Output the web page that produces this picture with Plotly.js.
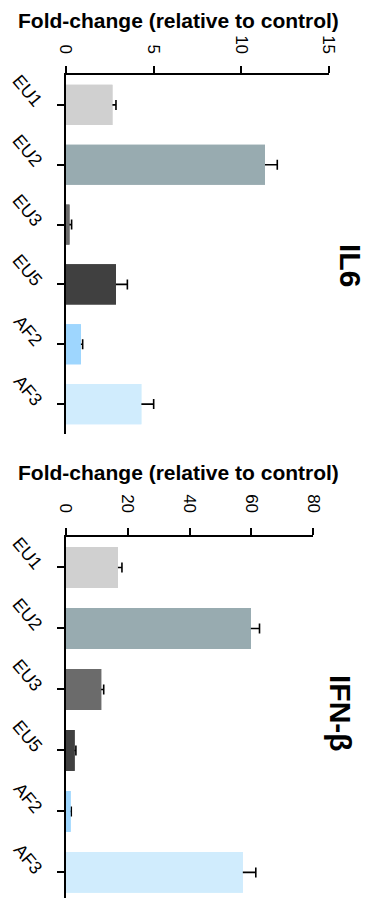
<!DOCTYPE html>
<html>
<head>
<meta charset="utf-8">
<script src="https://cdn.plot.ly/plotly-3.0.1.min.js"></script>
<style>html,body{margin:0;padding:0;background:#fff;}#chart{width:374px;height:898px;}</style>
</head>
<body>
<div id="chart"></div>
<script>
const categories = ['EU1', 'EU2', 'EU3', 'EU5', 'AF2', 'AF3'];
const il6Values = [2.65, 11.35, 0.2, 2.85, 0.85, 4.3];
const il6Errors = [0.2, 0.7, 0.12, 0.65, 0.1, 0.7];
const ifnbValues = [16.8, 59.8, 11.4, 2.8, 1.5, 57.2];
const ifnbErrors = [1.3, 2.8, 0.8, 0.4, 0.2, 4.2];
const barColors = ['#d0d0d0', '#98abb0', '#6b6b6b', '#404040', '#9ed6fe', '#d0ecfd'];
const il6Ticks = [0, 5, 10, 15];
const ifnbTicks = [0, 20, 40, 60, 80];
const axisTitle = 'Fold-change (relative to control)';
const panelTitles = ['IL6', 'IFN-β'];

const FONT = 'Liberation Sans, Arial, sans-serif';

// Bars with one-sided (plus) error bars; the lower cap is tucked inside the bar
// and hidden by an identical bar layer drawn on top.
function panelTraces(vals, errs, hideInside, xa, ya) {
  const minus = vals.map(v => Math.min(v * 0.5, hideInside));
  const base = {
    type: 'bar', orientation: 'h', x: vals, y: categories,
    xaxis: xa, yaxis: ya, width: 0.67,
    marker: {color: barColors, line: {width: 0}},
    showlegend: false, hoverinfo: 'none'
  };
  return [
    Object.assign({}, base, {
      error_x: {type: 'data', array: errs, arrayminus: minus, symmetric: false,
                color: '#000', thickness: 1.6, width: 5}
    }),
    Object.assign({}, base)
  ];
}

const data = [].concat(
  panelTraces(il6Values, il6Errors, 0.15, 'x', 'y'),
  panelTraces(ifnbValues, ifnbErrors, 0.8, 'x2', 'y2')
);

function xAxis(domain, range, ticks, anchor, standoff) {
  return {
    domain: domain, range: range, anchor: anchor, side: 'top',
    tickvals: ticks, ticktext: ticks.map(String), tickangle: 90,
    ticks: 'outside', ticklen: 7, tickwidth: 2, tickcolor: '#000',
    ticklabelstandoff: standoff,
    showline: true, linewidth: 2, linecolor: '#000',
    showgrid: false, zeroline: false,
    tickfont: {family: FONT, size: 17, color: '#000'}, fixedrange: true
  };
}
function yAxis(domain, range, anchor) {
  return {
    domain: domain, range: range, anchor: anchor, type: 'category',
    categoryorder: 'array', categoryarray: categories,
    tickangle: 50, ticks: 'outside', ticklen: 7, tickwidth: 2, tickcolor: '#000',
    ticklabelstandoff: 12,
    showline: true, linewidth: 2.5, linecolor: '#000',
    showgrid: false, zeroline: false,
    tickfont: {family: FONT, size: 18, color: '#000'}, fixedrange: true
  };
}

const H = 898, W = 374;
const layout = {
  width: W, height: H,
  margin: {l: 0, r: 0, t: 0, b: 0},
  paper_bgcolor: '#fff', plot_bgcolor: '#fff',
  barmode: 'overlay',
  xaxis: xAxis([66 / W, 329 / W], [0, 15], il6Ticks, 'y', 6),
  yaxis: yAxis([(H - 434) / H, (H - 75) / H], [5.5, -0.5], 'x'),
  xaxis2: xAxis([66 / W, 313.3 / W], [0, 80], ifnbTicks, 'y2', 9),
  yaxis2: yAxis([0, (H - 537) / H], [5.42, -0.5], 'x2'),
  annotations: [
    {text: '<b>' + axisTitle + '</b>', xref: 'paper', yref: 'paper', x: 178 / W, y: (H - 20) / H,
     xanchor: 'center', yanchor: 'middle', showarrow: false, font: {family: FONT, size: 21, color: '#000'}},
    {text: '<b>' + axisTitle + '</b>', xref: 'paper', yref: 'paper', x: 178 / W, y: (H - 472) / H,
     xanchor: 'center', yanchor: 'middle', showarrow: false, font: {family: FONT, size: 21, color: '#000'}},
    {text: '<b>' + panelTitles[0] + '</b>', xref: 'paper', yref: 'paper', x: 351 / W, y: (H - 265) / H,
     xanchor: 'center', yanchor: 'middle', textangle: 90, showarrow: false, font: {family: FONT, size: 30, color: '#000'}},
    {text: '<b>' + panelTitles[1] + '</b>', xref: 'paper', yref: 'paper', x: 341 / W, y: (H - 713) / H,
     xanchor: 'center', yanchor: 'middle', textangle: 90, showarrow: false, font: {family: FONT, size: 30, color: '#000'}}
  ]
};

Plotly.newPlot('chart', data, layout, {displayModeBar: false, staticPlot: true});
</script>
</body>
</html>
